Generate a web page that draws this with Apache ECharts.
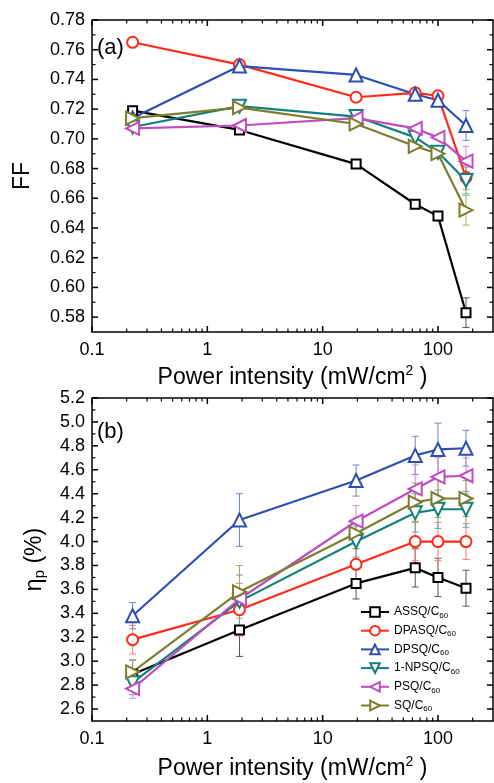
<!DOCTYPE html>
<html><head><meta charset="utf-8">
<script src="https://cdn.jsdelivr.net/npm/echarts@6/dist/echarts.min.js"></script>
<style>html,body{margin:0;padding:0;background:#fff}#c{width:494px;height:783px}</style>
</head><body><div id="c"></div><script>
// ---------- data ----------
const seriesNames = ['ASSQ/C60', 'DPASQ/C60', 'DPSQ/C60', '1-NPSQ/C60', 'PSQ/C60', 'SQ/C60'];
const powerIntensity = [0.225, 1.9, 19.5, 63.5, 100, 175];

// (a) fill factor
const ffASSQ   = [0.719, 0.706, 0.683, 0.656, 0.648, 0.583];
const ffDPASQ  = [0.765, 0.750, 0.728, 0.731, 0.729, 0.674];
const ffDPSQ   = [0.714, 0.749, 0.743, 0.730, 0.726, 0.709];
const ffNPSQ   = [0.708, 0.722, 0.715, 0.701, 0.691, 0.672];
const ffPSQ    = [0.707, 0.709, 0.714, 0.707, 0.701, 0.685];
const ffSQ     = [0.714, 0.721, 0.710, 0.695, 0.690, 0.652];
const ffErrASSQ  = [0, 0, 0, 0, 0, 0.010];
const ffErrDPASQ = [0, 0, 0, 0, 0, 0.008];
const ffErrDPSQ  = [0, 0, 0, 0, 0, 0.010];
const ffErrNPSQ  = [0, 0, 0, 0, 0, 0.009];
const ffErrPSQ   = [0, 0, 0, 0, 0, 0.010];
const ffErrSQ    = [0, 0, 0, 0, 0, 0.010];

// (b) power conversion efficiency
const etaASSQ  = [2.89, 3.26, 3.65, 3.78, 3.70, 3.61];
const etaDPASQ = [3.18, 3.43, 3.81, 4.00, 4.00, 4.00];
const etaDPSQ  = [3.38, 4.18, 4.51, 4.72, 4.77, 4.78];
const etaNPSQ  = [2.82, 3.50, 4.00, 4.24, 4.27, 4.27];
const etaPSQ   = [2.77, 3.52, 4.17, 4.44, 4.54, 4.55];
const etaSQ    = [2.91, 3.58, 4.07, 4.33, 4.36, 4.36];
const etaErrASSQ  = [0.12, 0.22, 0.13, 0.16, 0.16, 0.15];
const etaErrDPASQ = [0.12, 0.22, 0.13, 0.16, 0.16, 0.15];
const etaErrDPSQ  = [0.11, 0.22, 0.13, 0.16, 0.22, 0.15];
const etaErrNPSQ  = [0.10, 0.22, 0.13, 0.16, 0.16, 0.15];
const etaErrPSQ   = [0.08, 0.13, 0.13, 0.20, 0.16, 0.15];
const etaErrSQ    = [0.10, 0.22, 0.13, 0.16, 0.16, 0.15];

// axis ranges and tick values
const xRange = [0.1, 300];
const ffRange = [0.57, 0.78];
const etaRange = [2.5, 5.2];
const xMajorTicks = [0.1, 1, 10, 100];
const xMinorTicks = [0.2,0.3,0.4,0.5,0.6,0.7,0.8,0.9,2,3,4,5,6,7,8,9,20,30,40,50,60,70,80,90,200];
const ffMajorTicks = [0.58,0.60,0.62,0.64,0.66,0.68,0.70,0.72,0.74,0.76,0.78];
const ffMinorTicks = [0.59,0.61,0.63,0.65,0.67,0.69,0.71,0.73,0.75,0.77];
const etaMajorTicks = [2.6,2.8,3.0,3.2,3.4,3.6,3.8,4.0,4.2,4.4,4.6,4.8,5.0,5.2];
const etaMinorTicks = [2.7,2.9,3.1,3.3,3.5,3.7,3.9,4.1,4.3,4.5,4.7,4.9,5.1];

// ---------- styles ----------
const colors = ['#000000', '#ff2a1a', '#2e4fae', '#13807d', '#c04cc0', '#7d7d2d'];
const errColors = ['#555555', '#ff7a6a', '#6f86c8', '#5aa8a6', '#d58ad5', '#a8a862'];
const symbols = ['emptyRect', 'emptyCircle', 'emptyTriangle', 'emptyTriangle', 'emptyTriangle', 'emptyTriangle'];
const symRot = [0, 0, 0, 180, 90, -90];
const symSize = [9, 11, 13, 13, 13, 13];
const MAJOR_LEN = 6, MINOR_LEN = 3.5;

const ffSets = [ffASSQ, ffDPASQ, ffDPSQ, ffNPSQ, ffPSQ, ffSQ];
const ffErrs = [ffErrASSQ, ffErrDPASQ, ffErrDPSQ, ffErrNPSQ, ffErrPSQ, ffErrSQ];
const etaSets = [etaASSQ, etaDPASQ, etaDPSQ, etaNPSQ, etaPSQ, etaSQ];
const etaErrs = [etaErrASSQ, etaErrDPASQ, etaErrDPSQ, etaErrNPSQ, etaErrPSQ, etaErrSQ];

const FONT = 'Liberation Sans, Arial, sans-serif';

function xAxes(gi, nameGap) {
  const base = { type: 'log', logBase: 10, min: xRange[0], max: xRange[1], gridIndex: gi, splitLine: { show: false },
    axisTick: { show: false } };
  return [
    Object.assign({}, base, {
      position: 'bottom',
      axisLine: { show: true, onZero: false, lineStyle: { color: '#000', width: 1.5 } },
      axisLabel: { show: true, customValues: xMajorTicks, margin: 9, color: '#000', fontSize: 18, fontFamily: FONT,
        formatter: v => (v < 1 ? '0.1' : String(Math.round(v))) },
      name: 'Power intensity (mW/cm{sup|2} )', nameLocation: 'middle', nameGap: nameGap,
      nameTextStyle: { color: '#000', fontSize: 23, fontFamily: FONT,
        rich: { sup: { fontSize: 14, verticalAlign: 'top', padding: [0, 0, 14, 0], fontFamily: FONT, color: '#000' } } }
    }),
    Object.assign({}, base, {
      position: 'top',
      axisLine: { show: true, onZero: false, lineStyle: { color: '#000', width: 1.5 } },
      axisLabel: { show: false }
    })
  ];
}

function yAxes(gi, range, major, name, nameGap, nameRich, digits) {
  const base = { type: 'value', min: range[0], max: range[1], gridIndex: gi, splitLine: { show: false },
    axisTick: { show: false } };
  return [
    Object.assign({}, base, {
      position: 'left',
      axisLine: { show: true, onZero: false, lineStyle: { color: '#000', width: 1.5 } },
      axisLabel: { show: true, customValues: major, margin: 7, color: '#000', fontSize: 18, fontFamily: FONT,
        formatter: v => v.toFixed(digits) },
      name: name, nameLocation: 'middle', nameGap: nameGap, nameRotate: 90,
      nameTextStyle: { color: '#000', fontSize: 23, fontFamily: FONT, rich: nameRich }
    }),
    Object.assign({}, base, {
      position: 'right',
      axisLine: { show: true, onZero: false, lineStyle: { color: '#000', width: 1.5 } },
      axisLabel: { show: false }
    })
  ];
}

function errorRender(params, api) {
  const x = api.value(0), y = api.value(1), e = api.value(2);
  const top = api.coord([x, y + e]);
  const bot = api.coord([x, y - e]);
  const hw = 3.5;
  const st = { stroke: api.visual('color'), lineWidth: 1, fill: null };
  return {
    type: 'group',
    children: [
      { type: 'line', shape: { x1: top[0], y1: top[1], x2: bot[0], y2: bot[1] }, style: st },
      { type: 'line', shape: { x1: top[0] - hw, y1: top[1], x2: top[0] + hw, y2: top[1] }, style: st },
      { type: 'line', shape: { x1: bot[0] - hw, y1: bot[1], x2: bot[0] + hw, y2: bot[1] }, style: st }
    ]
  };
}

// inward tick marks on all four sides, placed through the axes' scales
// data item: [x, y, isMajor]; for x ticks y is ignored, for y ticks x is ignored
function tickRenderer(yRange, isX) {
  return function (params, api) {
    const major = api.value(2) > 0;
    const len = major ? MAJOR_LEN : MINOR_LEN;
    const st = { stroke: '#000', lineWidth: major ? 1.5 : 1.2, fill: null };
    if (isX) {
      const v = api.value(0);
      const b = api.coord([v, yRange[0]]);
      const t = api.coord([v, yRange[1]]);
      return { type: 'group', children: [
        { type: 'line', shape: { x1: b[0], y1: b[1], x2: b[0], y2: b[1] - len }, style: st },
        { type: 'line', shape: { x1: t[0], y1: t[1], x2: t[0], y2: t[1] + len }, style: st }
      ] };
    }
    const v = api.value(1);
    const l = api.coord([xRange[0], v]);
    const r = api.coord([xRange[1], v]);
    return { type: 'group', children: [
      { type: 'line', shape: { x1: l[0], y1: l[1], x2: l[0] + len, y2: l[1] }, style: st },
      { type: 'line', shape: { x1: r[0], y1: r[1], x2: r[0] - len, y2: r[1] }, style: st }
    ] };
  };
}

const series = [];
function addTicks(xi, yi, yRange, yMajor, yMinor, tag) {
  const mid = (yRange[0] + yRange[1]) / 2;
  const xData = xMajorTicks.map(v => [v, mid, 1]).concat(xMinorTicks.map(v => [v, mid, 0]));
  const yData = yMajor.map(v => [1, v, 1]).concat(yMinor.map(v => [1, v, 0]));
  series.push({ type: 'custom', name: 'xticks ' + tag, xAxisIndex: xi, yAxisIndex: yi, silent: true, z: 10,
    renderItem: tickRenderer(yRange, true), data: xData, encode: { x: 0, y: 1 } });
  series.push({ type: 'custom', name: 'yticks ' + tag, xAxisIndex: xi, yAxisIndex: yi, silent: true, z: 10,
    renderItem: tickRenderer(yRange, false), data: yData, encode: { x: 0, y: 1 } });
}
function addPanel(sets, errs, xi, yi, tag) {
  sets.forEach((vals, i) => {
    const errData = [];
    vals.forEach((v, k) => { if (errs[i][k] > 0) errData.push([powerIntensity[k], v, errs[i][k]]); });
    series.push({
      type: 'custom', name: 'err ' + tag + ' ' + seriesNames[i], xAxisIndex: xi, yAxisIndex: yi,
      renderItem: errorRender, data: errData, itemStyle: { color: errColors[i] }, z: 1, silent: true,
      encode: { x: 0, y: 1 }
    });
  });
  sets.forEach((vals, i) => {
    series.push({
      type: 'line', name: tag === 'b' ? seriesNames[i] : 'a ' + seriesNames[i],
      xAxisIndex: xi, yAxisIndex: yi,
      data: vals.map((v, k) => [powerIntensity[k], v]),
      symbol: symbols[i], symbolSize: symSize[i], symbolRotate: symRot[i],
      lineStyle: { color: colors[i], width: 2.2 },
      itemStyle: { color: colors[i], borderWidth: 1.3 },
      z: 3, animation: false
    });
  });
}
addTicks(0, 0, ffRange, ffMajorTicks, ffMinorTicks, 'a');
addTicks(2, 2, etaRange, etaMajorTicks, etaMinorTicks, 'b');
addPanel(ffSets, ffErrs, 0, 0, 'a');
addPanel(etaSets, etaErrs, 2, 2, 'b');

const chart = echarts.init(document.getElementById('c'), null, { renderer: 'canvas' });
chart.setOption({
  animation: false,
  backgroundColor: '#fff',
  grid: [
    { left: 92, top: 20, width: 401, height: 312 },
    { left: 92, top: 398, width: 401, height: 323 }
  ],
  xAxis: xAxes(0, 32).concat(xAxes(1, 34)),
  yAxis: yAxes(0, ffRange, ffMajorTicks, 'FF', 58, {}, 2)
    .concat(yAxes(1, etaRange, etaMajorTicks, '{e|η}{p|p} (%)', 45,
      { e: { fontSize: 23, fontFamily: FONT, color: '#000' },
        p: { fontSize: 15, fontFamily: FONT, color: '#000', verticalAlign: 'bottom', padding: [10, 0, 0, 0] } }, 1)),
  legend: {
    data: seriesNames,
    orient: 'vertical', left: 355, top: 601,
    itemWidth: 28, itemHeight: 12, itemGap: 5.2,
    textStyle: { color: '#000', fontSize: 12, fontFamily: FONT,
      rich: { s: { fontSize: 8, fontFamily: FONT, color: '#000', padding: [7, 0, 0, 0] } } },
    formatter: n => n.replace('C60', 'C{s|60}'),
    selectedMode: false
  },
  graphic: [
    { type: 'text', left: 97, top: 37, style: { text: '(a)', fontSize: 22, fontFamily: FONT, fill: '#000' } },
    { type: 'text', left: 97, top: 421, style: { text: '(b)', fontSize: 22, fontFamily: FONT, fill: '#000' } }
  ],
  series: series
});
</script></body></html>
